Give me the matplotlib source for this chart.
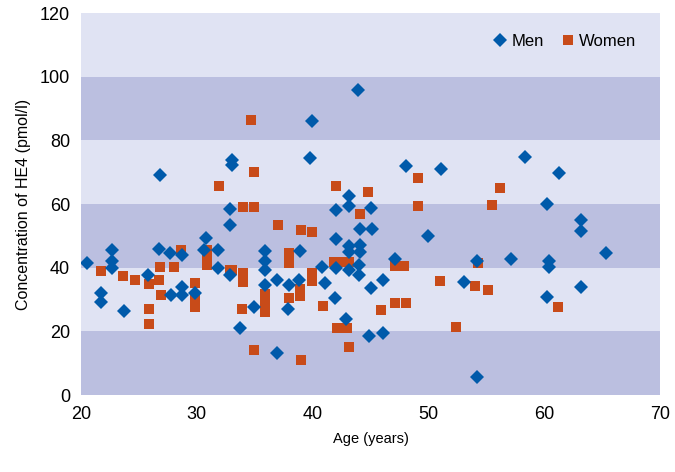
import matplotlib
matplotlib.use("Agg")
import matplotlib.pyplot as plt

plt.rcParams['font.family'] = ['Liberation Sans', 'DejaVu Sans']

# Datos: hombres
men_age = [20.5, 21.7, 21.7, 22.7, 22.7, 22.7, 23.7, 25.8, 26.8, 26.7, 27.7, 28.7,
           27.8, 28.7, 28.7, 29.8, 30.8, 30.6, 31.8, 31.8, 32.9, 33.0, 33.0, 32.9,
           32.9, 33.7, 43.9, 39.9, 39.8, 43.1, 42.0, 43.1, 45.0, 44.1, 45.1, 42.0,
           43.1, 44.1, 43.1, 44.1, 35.9, 38.9, 35.9, 35.9, 40.8, 42.0, 43.1, 44.0,
           44.0, 36.9, 38.0, 38.8, 41.1, 46.1, 45.0, 35.9, 34.9, 37.9, 41.9, 42.9,
           44.9, 46.1, 36.9, 58.3, 48.1, 51.1, 50.0, 47.1, 54.2, 57.1, 53.1, 54.2,
           61.3, 60.2, 63.2, 63.2, 65.3, 60.4, 60.4, 63.2, 60.2]
men_val = [41.4, 32.1, 29.1, 45.5, 42.2, 40.0, 26.5, 37.7, 69.2, 45.8, 44.5, 44.0,
           31.4, 34.0, 31.4, 32.1, 49.4, 45.5, 45.5, 39.8, 37.7, 73.8, 72.3, 58.6,
           53.4, 21.0, 96.0, 86.2, 74.5, 62.7, 58.3, 59.4, 58.8, 52.2, 52.2, 48.9,
           46.9, 47.1, 45.0, 45.0, 45.2, 45.2, 42.1, 39.3, 40.3, 39.8, 39.3, 40.8,
           37.7, 36.3, 34.6, 36.1, 35.1, 36.1, 33.7, 34.6, 27.7, 26.9, 30.6, 23.8,
           18.6, 19.6, 13.3, 74.7, 72.0, 71.2, 50.0, 42.7, 42.1, 42.9, 35.6, 5.8,
           69.8, 60.2, 55.0, 51.6, 44.8, 42.2, 40.1, 34.0, 30.9]

# Datos: mujeres
women_age = [21.7, 23.6, 24.7, 25.9, 25.9, 25.9, 26.8, 26.7, 26.9, 28.0, 28.6, 29.8,
             29.8, 29.8, 30.9, 30.9, 30.9, 31.9, 32.9, 34.7, 34.9, 42.0, 44.8, 44.1,
             34.0, 34.9, 37.0, 39.0, 39.9, 38.0, 38.0, 33.0, 34.0, 34.0, 39.9, 39.9,
             41.8, 42.4, 43.1, 38.9, 38.9, 38.0, 35.9, 35.9, 35.9, 33.9, 40.9, 45.9,
             42.1, 43.0, 43.1, 34.9, 39.0, 49.1, 56.2, 49.1, 55.5, 47.1, 47.9, 51.0,
             54.3, 54.0, 55.1, 47.1, 48.1, 52.4, 61.2]
women_val = [39.0, 37.4, 36.1, 34.9, 27.0, 22.2, 40.3, 36.3, 31.3, 40.3, 45.5, 35.1,
             30.4, 27.7, 45.5, 43.4, 40.8, 65.8, 39.3, 86.4, 70.0, 65.7, 63.8, 56.9,
             59.2, 59.2, 53.6, 51.8, 51.4, 44.8, 41.4, 39.3, 38.5, 35.6, 38.5, 35.9,
             41.9, 41.9, 41.9, 33.4, 31.1, 30.6, 31.9, 29.3, 26.0, 26.9, 28.1, 26.7,
             21.0, 21.0, 15.0, 14.1, 11.0, 68.2, 65.0, 59.5, 59.7, 40.5, 40.5, 35.9,
             41.6, 34.3, 33.1, 28.8, 28.8, 21.5, 27.7]

x_ticks = [20, 30, 40, 50, 60, 70]
y_ticks = [0, 20, 40, 60, 80, 100, 120]

fig = plt.figure(figsize=(6.75, 4.72), dpi=100)
ax = fig.add_axes([0.12, 0.163, 0.858, 0.809])

# bandas de fondo
for i in range(len(y_ticks) - 1):
    color = '#bbbfe0' if i % 2 == 0 else '#e0e3f3'
    ax.axhspan(y_ticks[i], y_ticks[i + 1], color=color, zorder=0, lw=0)

ax.plot(men_age, men_val, 'D', color='#005aaa', ms=7.2, mew=0, label='Men', zorder=3)
ax.plot(women_age, women_val, 's', color='#c84b19', ms=7.3, mew=0, label='Women', zorder=2)

ax.set_xlim(20, 70)
ax.set_ylim(0, 120)
ax.set_xticks(x_ticks)
ax.set_yticks(y_ticks)
ax.tick_params(length=0, labelsize=13, pad=8)
for s in ax.spines.values():
    s.set_visible(False)
ax.set_xlabel('Age (years)', fontsize=10.5, labelpad=6)
ax.set_ylabel('Concentration of HE4 (pmol/l)', fontsize=11.5, labelpad=6)

ax.legend(loc='upper right', frameon=False, ncol=2, fontsize=12, handletextpad=0.2,
          handlelength=1.0, columnspacing=0.9, bbox_to_anchor=(0.985, 0.985))

fig.savefig('out.png', dpi=100)
